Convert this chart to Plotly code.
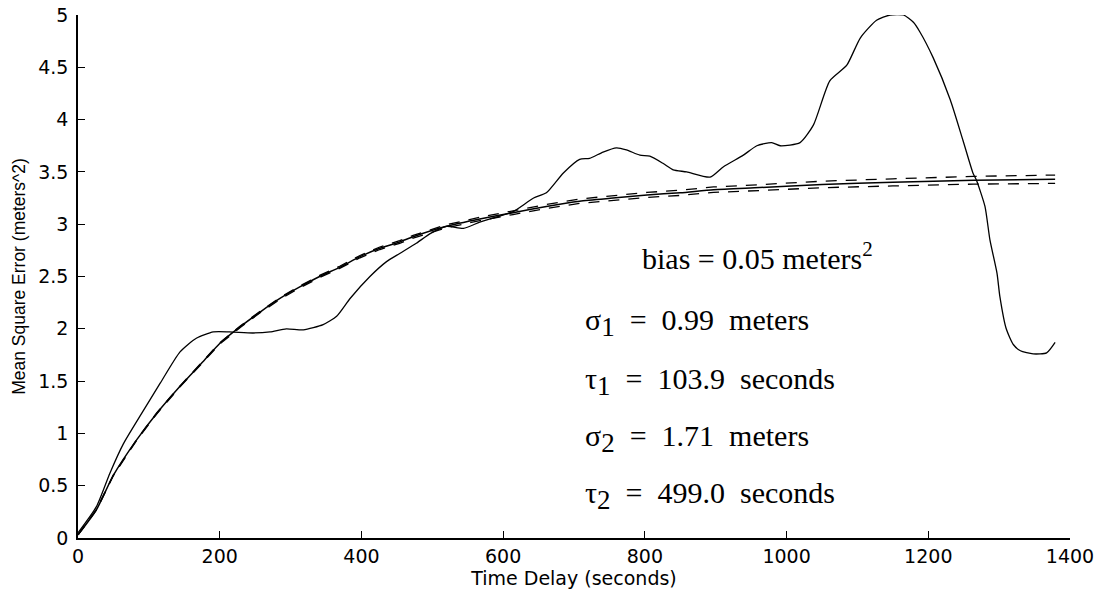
import plotly.graph_objects as go

# Empirical mean square error (noisy curve)
emp_t = [0, 26, 45, 64, 87, 116, 144, 167, 191, 214, 247, 271, 294, 318, 346, 365,
         384, 412, 435, 454, 478, 497, 520, 544, 567, 591, 614, 643, 661, 685, 708,
         722, 741, 760, 774, 793, 807, 826, 840, 859, 892, 911, 939, 958, 979, 991,
         1019, 1038, 1061, 1085, 1104, 1127, 1146, 1165, 1179, 1188, 1207, 1231,
         1249, 1263, 1268, 1280, 1287, 1297, 1301, 1310, 1320, 1330, 1348, 1367, 1379]
emp_y = [0.05, 0.30, 0.62, 0.90, 1.16, 1.48, 1.78, 1.91, 1.97, 1.97, 1.96, 1.97, 2.00,
         1.99, 2.04, 2.12, 2.29, 2.50, 2.64, 2.72, 2.82, 2.91, 2.98, 2.96, 3.02, 3.07,
         3.12, 3.25, 3.30, 3.49, 3.62, 3.63, 3.69, 3.73, 3.71, 3.66, 3.65, 3.58, 3.52,
         3.50, 3.45, 3.55, 3.66, 3.75, 3.78, 3.75, 3.78, 3.95, 4.37, 4.52, 4.78, 4.95,
         5.00, 5.00, 4.93, 4.84, 4.59, 4.19, 3.80, 3.49, 3.42, 3.17, 2.85, 2.53, 2.31,
         2.00, 1.85, 1.79, 1.76, 1.77, 1.87]

# Fitted model curve with upper / lower bounds
fit_t = [0, 26, 50, 83, 111, 144, 177, 200, 229, 257, 285, 313, 341, 370, 398, 426,
         454, 473, 520, 567, 614, 661, 708, 755, 803, 850, 897, 962, 1050, 1150, 1264, 1379]
fit_y = [0.03, 0.27, 0.60, 0.94, 1.19, 1.45, 1.69, 1.86, 2.02, 2.16, 2.29, 2.40, 2.50,
         2.59, 2.69, 2.77, 2.83, 2.88, 2.98, 3.05, 3.11, 3.17, 3.22, 3.25, 3.28, 3.30,
         3.33, 3.35, 3.38, 3.40, 3.42, 3.43]
fit_upper = [0.03, 0.272, 0.603, 0.944, 1.195, 1.455, 1.696, 1.866, 2.027, 2.167, 2.298,
             2.409, 2.51, 2.60, 2.701, 2.782, 2.843, 2.893, 2.995, 3.066, 3.128, 3.189,
             3.241, 3.272, 3.304, 3.325, 3.356, 3.378, 3.411, 3.434, 3.457, 3.47]
fit_lower = [0.03, 0.268, 0.597, 0.936, 1.185, 1.445, 1.684, 1.854, 2.013, 2.153, 2.282,
             2.391, 2.49, 2.58, 2.679, 2.758, 2.817, 2.867, 2.965, 3.034, 3.092, 3.151,
             3.199, 3.228, 3.256, 3.275, 3.304, 3.322, 3.349, 3.366, 3.383, 3.39]

x_ticks = [0, 200, 400, 600, 800, 1000, 1200, 1400]
y_ticks = [0, 0.5, 1, 1.5, 2, 2.5, 3, 3.5, 4, 4.5, 5]
y_tick_text = ["0", "0.5", "1", "1.5", "2", "2.5", "3", "3.5", "4", "4.5", "5"]

SUB = '<sub><span style="font-size:27px">{}</span></sub>'
param_lines = [
    "bias = 0.05 meters<sup>2</sup>",
    "σ" + SUB.format("1") + "\u00a0 = \u00a00.99 \u00a0meters",
    "τ" + SUB.format("1") + "\u00a0 = \u00a0103.9 \u00a0seconds",
    "σ" + SUB.format("2") + "\u00a0 = \u00a01.71 \u00a0meters",
    "τ" + SUB.format("2") + "\u00a0 = \u00a0499.0 \u00a0seconds",
]
param_x = [793, 713, 713, 713, 713]
param_y = [2.70, 2.06, 1.50, 0.95, 0.41]

fig = go.Figure()
for yy in (fit_upper, fit_lower):
    fig.add_trace(go.Scatter(x=fit_t, y=yy, mode="lines",
                             line=dict(color="black", width=1.3, dash="11px,9px"),
                             hoverinfo="skip", showlegend=False))
fig.add_trace(go.Scatter(x=fit_t, y=fit_y, mode="lines",
                         line=dict(color="black", width=1.5, shape="spline", smoothing=0.6),
                         showlegend=False))
fig.add_trace(go.Scatter(x=emp_t, y=emp_y, mode="lines",
                         line=dict(color="black", width=1.3, shape="spline", smoothing=0.6),
                         showlegend=False))

for txt, xx, yy in zip(param_lines, param_x, param_y):
    fig.add_annotation(x=xx, y=yy, xref="x", yref="y", text=txt, showarrow=False,
                       xanchor="left", yanchor="middle",
                       font=dict(family="Liberation Serif", size=30, color="black"))

tick_font = dict(family="DejaVu Sans", size=19, color="black")
fig.update_layout(
    width=1099, height=589,
    margin=dict(l=78, r=29, t=15, b=51),
    paper_bgcolor="white", plot_bgcolor="white",
    showlegend=False,
    xaxis=dict(range=[0, 1400], tickvals=x_ticks, ticks="inside", ticklen=7,
               tickwidth=1.2, tickcolor="black", showline=True, linecolor="black",
               linewidth=1.5, showgrid=False, zeroline=False, tickfont=tick_font,
               ticklabelstandoff=0, automargin=False,
               title=dict(text="Time Delay (seconds)",
                          font=dict(family="DejaVu Sans", size=19, color="black"),
                          standoff=3)),
    yaxis=dict(range=[0, 5], tickvals=y_ticks, ticktext=y_tick_text, ticks="inside",
               ticklen=7, tickwidth=1.2, tickcolor="black", showline=True,
               linecolor="black", linewidth=1.5, showgrid=False, zeroline=False,
               tickfont=tick_font, ticklabelstandoff=4, automargin=False,
               title=dict(text="Mean Square Error (meters^2)",
                          font=dict(family="Liberation Sans", size=17.5, color="black"),
                          standoff=8)),
)

fig.write_html("out.html")
